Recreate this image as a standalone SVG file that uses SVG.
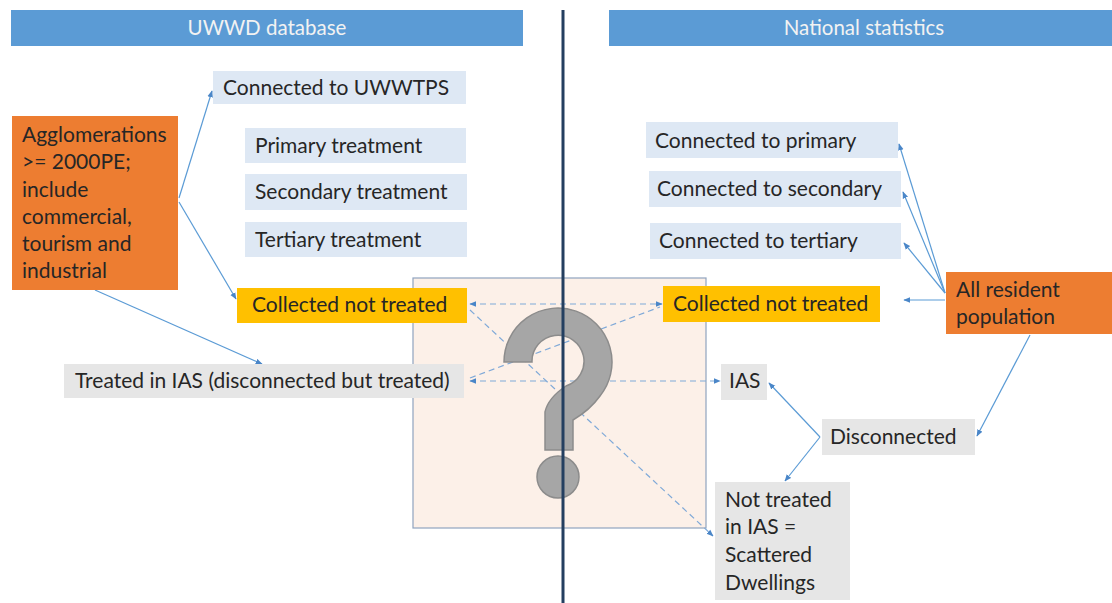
<svg xmlns="http://www.w3.org/2000/svg" width="1112" height="603" viewBox="0 0 1112 603">
  <defs>
    <style>
      .hdr { fill: #5b9bd5; }
      .hdr-t { font-family: Lato, "Liberation Sans", sans-serif; font-size: 20.5px; fill: #f2f2f2; text-anchor: middle; }
      .t { font-family: Lato, "Liberation Sans", sans-serif; font-size: 21px; fill: #262626; }
      .blue { fill: #dee8f4; }
      .gray { fill: #e6e6e6; }
      .orange { fill: #ed7d31; }
      .yellow { fill: #ffc000; }
      .solid { stroke: #5b9bd5; stroke-width: 1.2; fill: none; marker-end: url(#ah); }
      .dash { stroke: #7fa9d8; stroke-width: 1.2; fill: none; stroke-dasharray: 6 4; }
    </style>
    <marker id="ah" viewBox="0 0 10 10" refX="9" refY="5" markerWidth="7" markerHeight="7" orient="auto-start-reverse" markerUnits="userSpaceOnUse">
      <path d="M0,1 L10,5 L0,9 z" fill="#4a86c8"/>
    </marker>
  </defs>

  <rect width="1112" height="603" fill="#ffffff"/>

  <!-- column headers -->
  <g id="hdr-uwwd">
    <rect class="hdr" x="11" y="10" width="512" height="36"/>
    <text class="hdr-t" x="267" y="35">UWWD database</text>
  </g>
  <g id="hdr-national">
    <rect class="hdr" x="609" y="10" width="503" height="36"/>
    <text class="hdr-t" x="864" y="35">National statistics</text>
  </g>

  <!-- uncertainty area -->
  <g id="unknown-area">
    <rect x="413" y="278" width="293" height="250" fill="#fcf0e8" stroke="#8fa3bf" stroke-width="1.2"/>
  </g>

  <!-- connectors -->
  <g id="connectors">
    <line class="solid" x1="179" y1="198" x2="212" y2="91"/>
    <line class="solid" x1="179" y1="202" x2="236" y2="299"/>
    <line class="solid" x1="95" y1="290" x2="262" y2="364"/>
    <line class="dash" x1="470" y1="304" x2="662" y2="304" marker-start="url(#ah)" marker-end="url(#ah)"/>
    <line class="dash" x1="470" y1="381" x2="720" y2="381" marker-start="url(#ah)" marker-end="url(#ah)"/>
    <line class="dash" x1="470" y1="310" x2="713" y2="536" marker-end="url(#ah)"/>
    <line class="dash" x1="470" y1="378" x2="660" y2="307"/>
    <line class="solid" x1="945" y1="293" x2="899" y2="144"/>
    <line class="solid" x1="945" y1="293" x2="903" y2="192"/>
    <line class="solid" x1="945" y1="293" x2="904" y2="243"/>
    <line class="solid" x1="945" y1="300" x2="904" y2="300"/>
    <line class="solid" x1="1030" y1="335" x2="977" y2="436"/>
    <line class="solid" x1="820" y1="437" x2="769" y2="383"/>
    <line class="solid" x1="820" y1="437" x2="785" y2="481"/>
  </g>

  <!-- question mark -->
  <g id="question-mark" fill="#a6a6a6" stroke="#8c8c8c" stroke-width="1.5">
    <path d="M504,362 A54,54 0 1 1 600,396 Q590,410 573,420 L573,450 L545,450 L545,412 Q548,398 566,386 A26,26 0 1 0 532,362 Z"/>
    <circle cx="558" cy="477" r="21"/>
  </g>

  <!-- UWWD side -->
  <g id="agglomerations">
    <rect class="orange" x="12" y="116" width="166" height="174"/>
    <text class="t" x="22" y="142">Agglomerations</text>
    <text class="t" x="22" y="169">&gt;= 2000PE;</text>
    <text class="t" x="22" y="197">include</text>
    <text class="t" x="22" y="224">commercial,</text>
    <text class="t" x="22" y="251">tourism and</text>
    <text class="t" x="22" y="278">industrial</text>
  </g>
  <g id="connected-uwwtps">
    <rect class="blue" x="213" y="71" width="253" height="33"/>
    <text class="t" x="223" y="95">Connected to UWWTPS</text>
  </g>
  <g id="primary">
    <rect class="blue" x="245" y="128" width="221" height="35"/>
    <text class="t" x="255" y="153">Primary treatment</text>
  </g>
  <g id="secondary">
    <rect class="blue" x="245" y="174" width="222" height="36"/>
    <text class="t" x="255" y="199">Secondary treatment</text>
  </g>
  <g id="tertiary">
    <rect class="blue" x="245" y="222" width="222" height="35"/>
    <text class="t" x="255" y="247">Tertiary treatment</text>
  </g>
  <g id="collected-uwwd">
    <rect class="yellow" x="237" y="288" width="230" height="35"/>
    <text class="t" x="252" y="312">Collected not treated</text>
  </g>
  <g id="treated-ias">
    <rect class="gray" x="64" y="364" width="400" height="34"/>
    <text class="t" x="75" y="388">Treated in IAS (disconnected but treated)</text>
  </g>

  <!-- national statistics side -->
  <g id="conn-primary">
    <rect class="blue" x="646" y="122" width="252" height="36"/>
    <text class="t" x="655" y="148">Connected to primary</text>
  </g>
  <g id="conn-secondary">
    <rect class="blue" x="649" y="171" width="252" height="36"/>
    <text class="t" x="657" y="196">Connected to secondary</text>
  </g>
  <g id="conn-tertiary">
    <rect class="blue" x="650" y="223" width="251" height="36"/>
    <text class="t" x="659" y="248">Connected to tertiary</text>
  </g>
  <g id="collected-national">
    <rect class="yellow" x="663" y="286" width="217" height="36"/>
    <text class="t" x="673" y="311">Collected not treated</text>
  </g>
  <g id="resident-population">
    <rect class="orange" x="946" y="272" width="166" height="62"/>
    <text class="t" x="956" y="297">All resident</text>
    <text class="t" x="956" y="324">population</text>
  </g>
  <g id="ias">
    <rect class="gray" x="721" y="364" width="46" height="36"/>
    <text class="t" x="729" y="388">IAS</text>
  </g>
  <g id="disconnected">
    <rect class="gray" x="822" y="419" width="153" height="36"/>
    <text class="t" x="830" y="444">Disconnected</text>
  </g>
  <g id="scattered">
    <rect class="gray" x="715" y="482" width="135" height="118"/>
    <text class="t" x="725" y="507">Not treated</text>
    <text class="t" x="725" y="534">in IAS =</text>
    <text class="t" x="725" y="562">Scattered</text>
    <text class="t" x="725" y="590">Dwellings</text>
  </g>

  <!-- divider between the two sources -->
  <line id="divider" x1="563" y1="10" x2="563" y2="603" stroke="#243f60" stroke-width="3"/>
</svg>
